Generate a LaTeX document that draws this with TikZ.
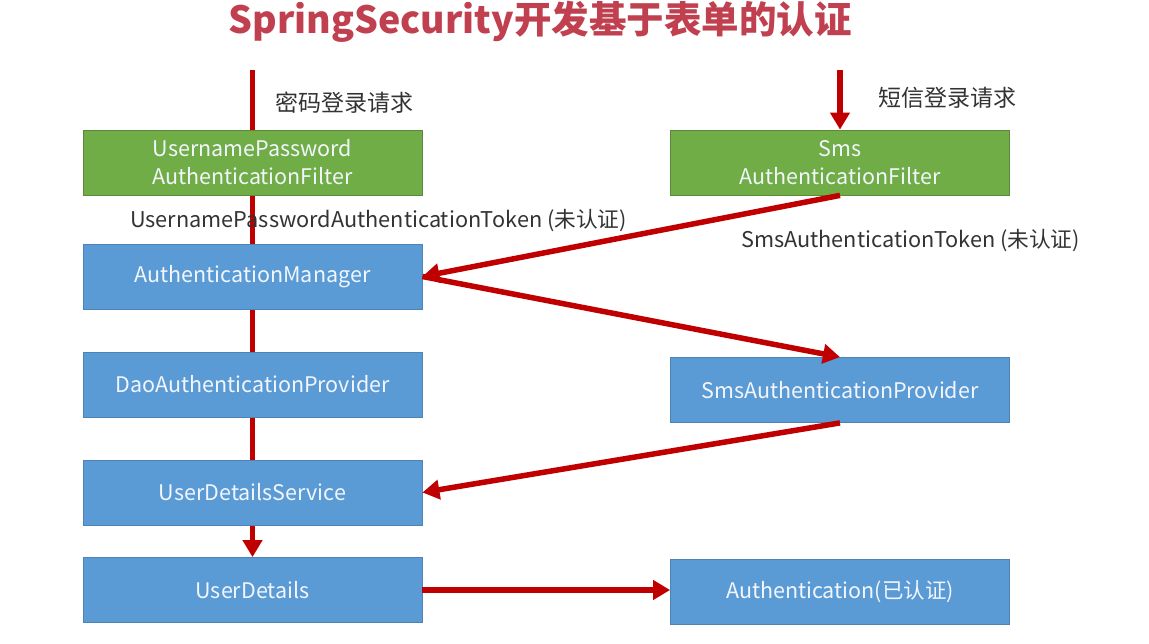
\documentclass[tikz,border=0pt]{standalone}
\usepackage{fontspec}
\setmainfont{Noto Sans CJK SC}
\usetikzlibrary{arrows.meta,backgrounds}
\definecolor{boxgreen}{HTML}{70AD47}
\definecolor{boxblue}{HTML}{5B9BD5}
\definecolor{flowred}{HTML}{C00000}
\definecolor{titlered}{HTML}{C0404F}
\definecolor{labelgray}{HTML}{333333}
\definecolor{boxtext}{HTML}{F2F6FC}
\begin{document}
\begin{tikzpicture}[x=1pt,y=-1pt,
  box/.style={rectangle,minimum width=339pt,minimum height=65pt,inner sep=0pt,
    text=boxtext,font=\fontsize{21.5}{28}\selectfont,align=center,line width=0.8pt},
  gbox/.style={box,fill=boxgreen,draw=boxgreen!80!black},
  bbox/.style={box,fill=boxblue,draw=boxblue!85!black},
  flow/.style={draw=flowred,line width=5.5pt,-{Triangle[length=17pt,width=19pt]}},
  lbl/.style={text=labelgray,font=\fontsize{21.7}{24}\selectfont,inner sep=0pt,anchor=west},
  clbl/.style={text=labelgray,font=\fontsize{23}{26}\selectfont,inner sep=0pt,anchor=west}]
\useasboundingbox (0,0) rectangle (1149,644);
\node[text=titlered,font=\fontsize{37.5}{42}\selectfont\bfseries,inner sep=0pt,anchor=base] (title) at (540,34) {SpringSecurity开发基于表单的认证};
\node[gbox] (uf) at (252.5,162.5) {UsernamePassword\\AuthenticationFilter};
\node[gbox] (sf) at (840,162.5) {Sms\\AuthenticationFilter};
\node[bbox] (am) at (252.5,276.5) {AuthenticationManager};
\node[bbox] (dp) at (252.5,384.5) {DaoAuthenticationProvider};
\node[bbox] (sp) at (840,390) {SmsAuthenticationProvider};
\node[bbox] (uds) at (252.5,492.5) {UserDetailsService};
\node[bbox] (ud) at (252.5,590) {UserDetails};
\node[bbox] (auth) at (840,592) {Authentication(已认证)};
\node[clbl] (pwreq) at (275,103) {密码登录请求};
\node[clbl] (smsreq) at (878,98) {短信登录请求};
\node[lbl] (uptoken) at (130,221) {UsernamePasswordAuthenticationToken (未认证)};
\node[lbl] (smstoken) at (741,241) {SmsAuthenticationToken (未认证)};
\coordinate (lstart) at (252.5,70);
\coordinate (rstart) at (840,70);
\begin{scope}[on background layer]
\draw[flow] (lstart) -- (ud.north);
\end{scope}
\draw[flow] (rstart) -- (sf.north);
\draw[flow] (sf.south) -- (am.east);
\draw[flow] (am.east) -- (sp.north);
\draw[flow] (sp.south) -- (uds.east);
\draw[flow] (ud.east) -- (ud.east -| auth.west);
\end{tikzpicture}
\end{document}
